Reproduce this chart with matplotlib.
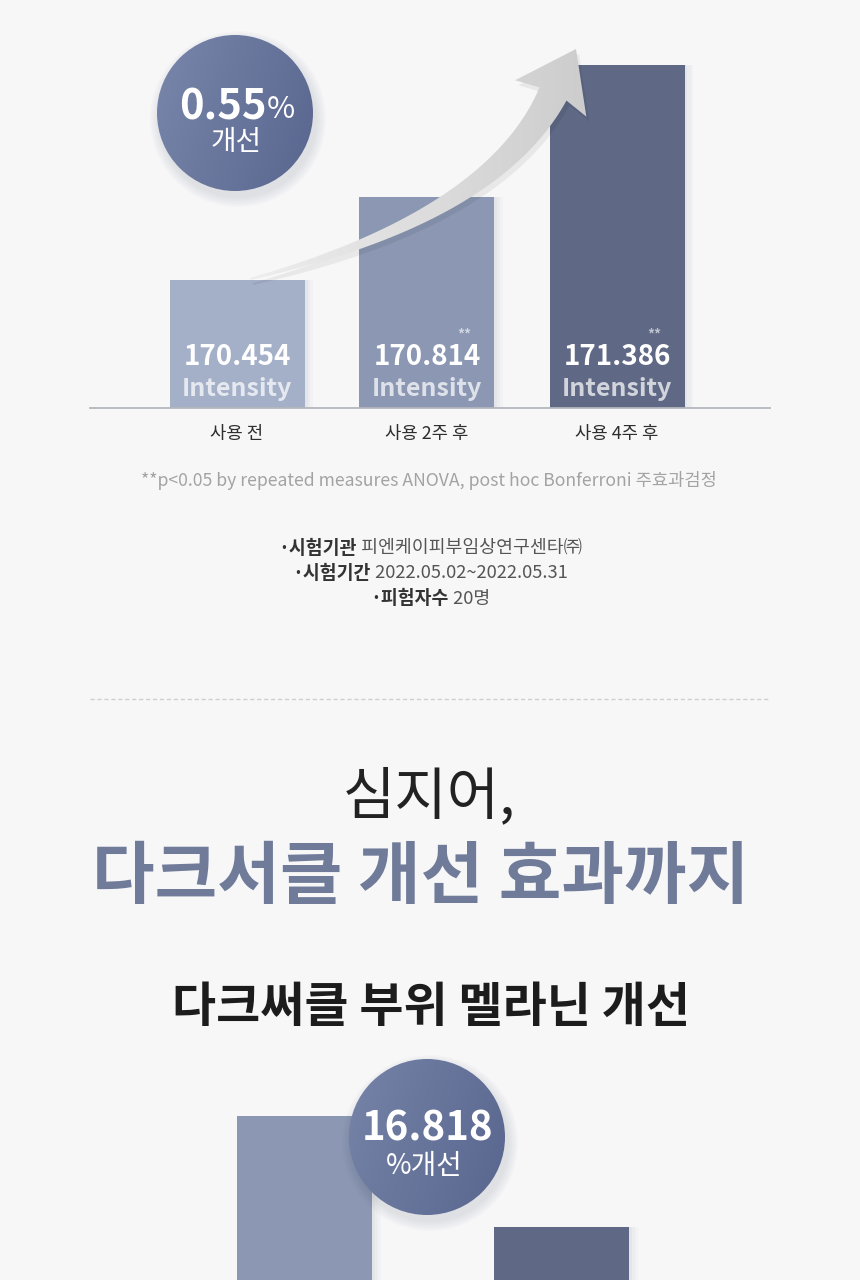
import numpy as np
import matplotlib
matplotlib.use('Agg')
import matplotlib.pyplot as plt
from matplotlib.patches import Circle, Polygon
from matplotlib.transforms import blended_transform_factory
from matplotlib.colors import to_rgb

plt.rcParams['font.family'] = ['Noto Sans CJK KR', 'DejaVu Sans']

# ---------------- data ----------------
categories = ['사용 전', '사용 2주 후', '사용 4주 후']
intensity = [170.454, 170.814, 171.386]
sig_marks = ['', '**', '**']
value_unit = 'Intensity'
improve_pct = '0.55'
improve_word = '개선'

melanin_categories = ['사용 전', '사용 4주 후']
melanin_index = [100.0, 83.182]          # relative index (before = 100)
melanin_improve = '16.818'

footnote = '**p<0.05 by repeated measures ANOVA, post hoc Bonferroni 주효과검정'
info_labels = ['·시험기관', '·시험기간', '·피험자수']
info_values = ['피엔케이피부임상연구센타㈜', '2022.05.02~2022.05.31', '20명']
headline_1 = '심지어,'
headline_2 = '다크서클 개선 효과까지'
subtitle = '다크써클 부위 멜라닌 개선'

# ---------------- style ----------------
W, H = 860, 1280
BG = '#f7f7f8'
BAR_COLORS = ['#a4afc8', '#8b97b3', '#5f6985']
M_COLORS = ['#8b97b3', '#5f6985']

fig = plt.figure(figsize=(W / 100, H / 100), dpi=100, facecolor=BG)


def frac_rect(x0, y0, x1, y1):
    return [x0 / W, 1 - y1 / H, (x1 - x0) / W, (y1 - y0) / H]


# overlay axes in pixel coordinates (y down)
ax_o = fig.add_axes([0, 0, 1, 1], zorder=3)
ax_o.set_xlim(0, W)
ax_o.set_ylim(H, 0)
ax_o.axis('off')
ax_o.patch.set_alpha(0)

# ---------------- top bar chart ----------------
ax1 = fig.add_axes(frac_rect(90, 40, 770, 408), zorder=1)
ax1.patch.set_alpha(0)
step1 = 190.0
xs = np.arange(len(categories))
ax1.set_xlim((90 - 237) / step1, (770 - 237) / step1)
ax1.set_ylim(169.9, 169.9 + 368 / 230.7)
bw = 135 / step1
for k, a in enumerate([0.035, 0.03, 0.025]):
    ax1.bar(xs + (3 + 3 * k) / step1, intensity, width=bw, color='#303850',
            alpha=a, zorder=1, linewidth=0)
ax1.bar(xs, intensity, width=bw, color=BAR_COLORS, zorder=2, linewidth=0)
for s in ['top', 'left', 'right']:
    ax1.spines[s].set_visible(False)
ax1.spines['bottom'].set_color('#b3b6bd')
ax1.spines['bottom'].set_linewidth(1.3)
ax1.spines['bottom'].set_zorder(4)
ax1.set_yticks([])
ax1.set_xticks(xs)
ax1.set_xticklabels(categories, fontsize=12.8, color='#2e2e2e', fontweight='medium')
ax1.tick_params(axis='x', length=0, pad=12)

trans1 = blended_transform_factory(ax1.transData, ax_o.transData)
for x, v, m in zip(xs, intensity, sig_marks):
    ax1.text(x, 357, f'{v:.3f}', transform=trans1, ha='center', va='center',
             color='white', fontsize=20, fontweight='bold', zorder=5)
    ax1.text(x, 389, value_unit, transform=trans1, ha='center', va='center',
             color='white', alpha=0.72, fontsize=18, fontweight='bold', zorder=5)
    if m:
        ax1.text(x + 37 / step1, 335, m, transform=trans1, ha='center', va='center',
                 color='white', alpha=0.6, fontsize=10, fontweight='bold', zorder=5)


# ---------------- helpers for decorations ----------------
def gradient_circle(cx, cy, r, c1, c2):
    for k in range(7):
        sh = Circle((cx + 3, cy + 6), r + 1 + k * 1.5, color='#2a3350',
                    alpha=0.016, lw=0, zorder=1)
        ax_o.add_patch(sh)
    circ = Circle((cx, cy), r, facecolor='none', edgecolor='none', zorder=2)
    ax_o.add_patch(circ)
    n = 200
    gx, gy = np.meshgrid(np.linspace(0, 1, n), np.linspace(0, 1, n))
    t = np.clip(0.75 * gx + 0.25 * gy, 0, 1)[..., None]
    img = (1 - t) * np.array(to_rgb(c1)) + t * np.array(to_rgb(c2))
    im = ax_o.imshow(img, extent=[cx - r, cx + r, cy + r, cy - r], origin='upper',
                     zorder=2, interpolation='bilinear', aspect='auto')
    im.set_clip_path(circ)


# ---------------- arrow ----------------
P0 = np.array([250.0, 279.0])
P1 = np.array([493.0, 217.0])
P2 = np.array([553.0, 94.0])
tip = np.array([576.0, 49.0])
ts = np.linspace(0, 1, 80)
pts = ((1 - ts) ** 2)[:, None] * P0 + (2 * ts * (1 - ts))[:, None] * P1 + (ts ** 2)[:, None] * P2
der = (2 * (1 - ts))[:, None] * (P1 - P0) + (2 * ts)[:, None] * (P2 - P1)
nrm = np.stack([-der[:, 1], der[:, 0]], axis=1)
nrm /= np.linalg.norm(nrm, axis=1)[:, None]
hw = 1.0 + 14.0 * ts
left = pts + nrm * hw[:, None]
right = pts - nrm * hw[:, None]
dend = (tip - P2) / np.linalg.norm(tip - P2)
nend = np.array([-dend[1], dend[0]])
barb_l = P2 + nend * 40 - dend * 5
barb_r = P2 - nend * 40 - dend * 5
poly = np.vstack([left, barb_l[None], tip[None], barb_r[None], right[::-1]])
shadow = Polygon(poly + np.array([3, 5]), closed=True, facecolor='#000000',
                 alpha=0.06, lw=0, zorder=2)
ax_o.add_patch(shadow)
arrow = Polygon(poly, closed=True, facecolor='none', edgecolor='none', zorder=3)
ax_o.add_patch(arrow)
gx = np.linspace(0, 1, 300)[None, :].repeat(10, axis=0)[..., None]
agrad = (1 - gx) * np.array(to_rgb('#eeeeee')) + gx * np.array(to_rgb('#cbcbcc'))
aim = ax_o.imshow(agrad, extent=[245, 605, 285, 40], origin='upper', zorder=3,
                  aspect='auto', interpolation='bilinear')
aim.set_clip_path(arrow)

# ---------------- top circle ----------------
gradient_circle(235, 113, 78, '#7a87ab', '#58658e')
t_num = ax_o.text(0, 107, improve_pct, ha='left', va='center', color='white',
                  fontsize=30, fontweight='bold', zorder=5)
t_pct = ax_o.text(0, 110, '%', ha='left', va='center', color='white',
                  fontsize=22, fontweight='normal', zorder=5)
renderer = fig.canvas.get_renderer()
w_num = t_num.get_window_extent(renderer).width
w_pct = t_pct.get_window_extent(renderer).width
x0 = 237 - (w_num + w_pct) / 2
t_num.set_x(x0)
t_pct.set_x(x0 + w_num)
ax_o.text(236, 142, improve_word, ha='center', va='center', color='white',
          fontsize=20, zorder=5)

# ---------------- footnote & info ----------------
ax_o.text(429, 480, footnote, ha='center', va='center', color='#a3a3a3',
          fontsize=12.7, fontweight='light')
for i, (lab, val) in enumerate(zip(info_labels, info_values)):
    y = 548 + 25.5 * i
    tb = ax_o.text(0, y, lab, ha='left', va='center', color='#333333',
                   fontsize=13.2, fontweight='bold')
    tv = ax_o.text(0, y, ' ' + val, ha='left', va='center', color='#555555',
                   fontsize=13.2, fontweight='light')
    wb = tb.get_window_extent(renderer).width
    wv = tv.get_window_extent(renderer).width
    xs0 = 430 - (wb + wv) / 2
    tb.set_x(xs0)
    tv.set_x(xs0 + wb)

# divider
ax_o.plot([90, 770], [699, 699], color='#cfcfcf', lw=1.0, linestyle=(0, (3, 2)))

# headlines
ax_o.text(429, 797, headline_1, ha='center', va='center', color='#222222',
          fontsize=41, fontweight='light')
ax_o.text(421, 878, headline_2, ha='center', va='center', color='#6f7b99',
          fontsize=49, fontweight='bold')
ax_o.text(431, 1008, subtitle, ha='center', va='center', color='#1c1c1c',
          fontsize=34.5, fontweight='bold')

# ---------------- second bar chart ----------------
ax2 = fig.add_axes(frac_rect(90, 1060, 770, 1280), zorder=1)
ax2.patch.set_alpha(0)
step2 = 257.0
xm = np.arange(len(melanin_categories))
ax2.set_xlim((90 - 304.5) / step2, (770 - 304.5) / step2)
px_per_unit = (1227 - 1116) / (melanin_index[0] - melanin_index[1])
ax2.set_ylim(melanin_index[0] - (1280 - 1116) / px_per_unit,
             melanin_index[0] + (1116 - 1060) / px_per_unit)
bw2 = 135 / step2
for k, a in enumerate([0.035, 0.03, 0.025]):
    ax2.bar(xm + (3 + 3 * k) / step2, melanin_index, width=bw2, color='#303850',
            alpha=a, zorder=1, linewidth=0)
ax2.bar(xm, melanin_index, width=bw2, color=M_COLORS, zorder=2, linewidth=0)
ax2.axis('off')

gradient_circle(427, 1137, 78, '#7784a8', '#58658e')
ax_o.text(428, 1129, melanin_improve, ha='center', va='center', color='white',
          fontsize=29, fontweight='bold', zorder=5)
ax_o.text(424, 1166, '%' + improve_word, ha='center', va='center', color='white',
          fontsize=20, zorder=5)

fig.savefig('out.png', dpi=100, facecolor=BG)
